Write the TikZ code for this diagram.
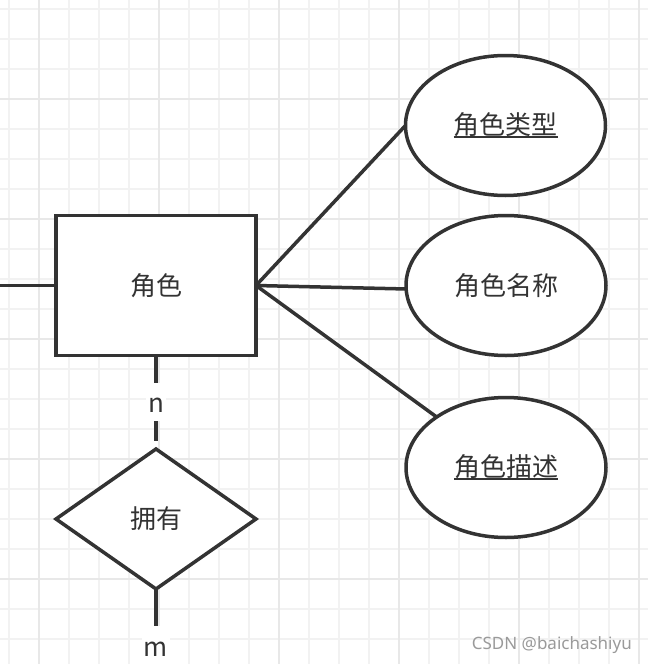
\documentclass[tikz,border=0pt]{standalone}
\usepackage{fontspec}
\newfontfamily\cjk{Noto Sans CJK SC}
\newfontfamily\wmfont{Noto Sans}
\usetikzlibrary{shapes.geometric}
\definecolor{ink}{HTML}{333333}
\definecolor{gminor}{HTML}{F2F2F2}
\definecolor{gmajor}{HTML}{E8E8E8}
\definecolor{wmark}{HTML}{9A9A9A}
\newcommand\ulined[1]{\setbox0=\hbox{#1}\leavevmode\rlap{\copy0}\raisebox{-3pt}{\rule{\wd0}{2pt}}}
\tikzset{
  lab/.style={font=\cjk\fontsize{26}{31}\selectfont, text=ink},
  entity/.style={lab, draw=ink, line width=3.5pt, fill=white, rectangle, minimum width=200pt, minimum height=140pt, inner sep=0pt, outer sep=0pt},
  attr/.style={lab, draw=ink, line width=3.5pt, fill=white, ellipse, minimum width=200pt, minimum height=140pt, inner sep=0pt, outer sep=0pt},
  rel/.style={lab, draw=ink, line width=3.5pt, fill=white, diamond, minimum width=200pt, minimum height=140pt, inner sep=0pt, outer sep=0pt},
  conn/.style={draw=ink, line width=3.5pt},
  card/.style={lab, fill=white, inner xsep=2pt, inner ysep=0pt, text height=30pt, text depth=8pt},
}
\begin{document}
\begin{tikzpicture}[x=1pt,y=-1pt]
\useasboundingbox (0,0) rectangle (648,664);
\clip (0,0) rectangle (648,664);
\fill[white] (0,0) rectangle (648,664);
% grid
\foreach \k in {0,...,21} {
  \draw[gminor, line width=2pt] ({9+30*\k},0) -- ({9+30*\k},664);
  \draw[gminor, line width=2pt] (0,{9+30*\k}) -- (648,{9+30*\k});
}
\foreach \k in {1,5,9,13,17,21} \draw[gmajor, line width=2pt] ({9+30*\k},0) -- ({9+30*\k},664);
\foreach \k in {3,7,11,15,19} \draw[gmajor, line width=2pt] (0,{9+30*\k}) -- (648,{9+30*\k});

\coordinate (lin) at (-10,285.5);
\coordinate (down) at (156,700);

\draw[conn] (lin) -- (156,285.5);
\node[entity] (r) at (156,285.5) {角色};
\node[attr] (e1) at (505.5,125.5) {\ulined{角色类型}};
\node[attr] (e2) at (506,285.5) {角色名称};
\node[attr] (e3) at (506,467.5) {\ulined{角色描述}};
\node[rel] (d) at (156,519) {拥有};

\draw[conn] (r.east) -- (e1.west);
\draw[conn] (r.east) -- (e2.182);
\draw[conn] (r.east) -- (e3);
\draw[conn, shorten >=8pt] (r.south) -- node[card, pos=0.497] (n) {n} (d.north);
\draw[conn] (d.south) -- (down);
\node[card] (m) at (156,645) {m};

\node[font=\wmfont\fontsize{17}{20}\selectfont, text=wmark, anchor=base east, inner sep=0pt] (wm) at (632,649) {CSDN @baichashiyu};
\end{tikzpicture}
\end{document}
